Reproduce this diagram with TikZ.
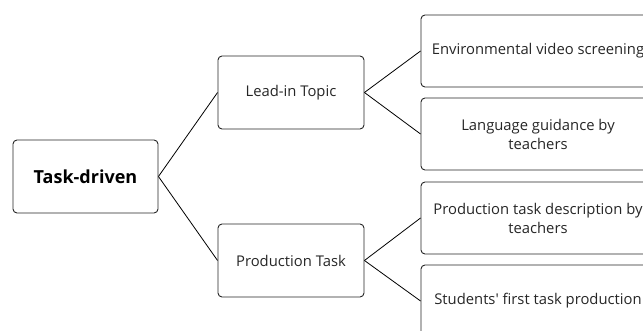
\documentclass[tikz,border=0pt]{standalone}
\usepackage{fontspec}
\setmainfont{Open Sans}
\tikzset{
  box/.style={draw=black!85, rounded corners=4pt, line width=0.9pt, align=center, inner sep=0pt, text=black!85},
  rootbox/.style={box, minimum width=145pt, minimum height=73pt, font=\fontsize{18}{21}\selectfont\bfseries, text=black},
  midbox/.style={box, minimum width=146pt, minimum height=73pt, font=\fontsize{14.8}{19}\selectfont},
  leafbox/.style={box, minimum width=234pt, minimum height=72pt, font=\fontsize{14.8}{19}\selectfont},
  link/.style={line width=0.8pt}
}
\begin{document}
\begin{tikzpicture}[x=1pt,y=-1pt]
            \useasboundingbox (0,0) rectangle (643,331);
            \clip (0,0) rectangle (643,331);
            \node[rootbox] (task) at (85.5,176.5) {Task-driven};
            \node[midbox] (leadin) at (291,92.5) {Lead-in Topic};
            \node[midbox] (prod) at (291,260.5) {Production Task};
            \node[leafbox] (video) at (538,51) {Environmental video screening};
            \node[leafbox] (guide) at (538,134) {Language guidance by\\teachers};
            \node[leafbox] (desc) at (538,218) {Production task description by\\teachers};
            \node[leafbox] (first) at (538,301) {Students\textquotesingle\ first task production};

            \draw[link] (task.east) to (leadin.west); \draw[link] (task.east) to (prod.west);
            \draw[link] (leadin.east) to (video.west); \draw[link] (leadin.east) to (guide.west);
            \draw[link] (prod.east) to (desc.west); \draw[link] (prod.east) to (first.west);
        \end{tikzpicture}
\end{document}
